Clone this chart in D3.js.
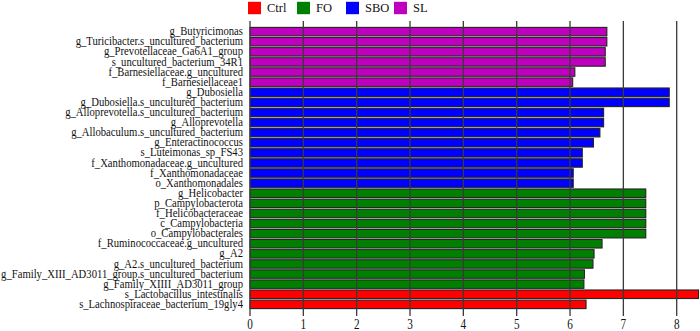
<!DOCTYPE html>
<html>
<head>
<meta charset="utf-8">
<script src="https://cdn.jsdelivr.net/npm/d3@7"></script>
<style>
  body { margin: 0; background: #fff; }
  text { font-family: "Liberation Serif", "Times New Roman", serif; fill: #111; }
</style>
</head>
<body>
<svg width="700" height="331"></svg>
<script>
// groups, top to bottom
var groups = ["Ctrl", "FO", "SBO", "SL"];
var groupColors = ["#ff0000", "#008000", "#0000ff", "#bf00bf"];

var labels = [
  "g_Butyricimonas",
  "g_Turicibacter.s_uncultured_bacterium",
  "g_Prevotellaceae_Ga6A1_group",
  "s_uncultured_bacterium_34R1",
  "f_Barnesiellaceae.g_uncultured",
  "f_Barnesiellaceae1",
  "g_Dubosiella",
  "g_Dubosiella.s_uncultured_bacterium",
  "g_Alloprevotella.s_uncultured_bacterium",
  "g_Alloprevotella",
  "g_Allobaculum.s_uncultured_bacterium",
  "g_Enteractinococcus",
  "s_Luteimonas_sp_FS43",
  "f_Xanthomonadaceae.g_uncultured",
  "f_Xanthomonadaceae",
  "o_Xanthomonadales",
  "g_Helicobacter",
  "p_Campylobacterota",
  "f_Helicobacteraceae",
  "c_Campylobacteria",
  "o_Campylobacterales",
  "f_Ruminococcaceae.g_uncultured",
  "g_A2",
  "g_A2.s_uncultured_bacterium",
  "g_Family_XIII_AD3011_group.s_uncultured_bacterium",
  "g_Family_XIIII_AD3011_group",
  "s_Lactobacillus_intestinalis",
  "s_Lachnospiraceae_bacterium_19gly4"
];

var ldaScores = [
  6.69, 6.69, 6.66, 6.66, 6.09, 6.05,
  7.86, 7.86, 6.63, 6.63, 6.56, 6.44, 6.23, 6.23, 6.06, 6.06,
  7.42, 7.42, 7.42, 7.42, 7.42, 6.60, 6.45, 6.43, 6.27, 6.26,
  8.41, 6.30
];

var barGroup = [
  "SL", "SL", "SL", "SL", "SL", "SL",
  "SBO", "SBO", "SBO", "SBO", "SBO", "SBO", "SBO", "SBO", "SBO", "SBO",
  "FO", "FO", "FO", "FO", "FO", "FO", "FO", "FO", "FO", "FO",
  "Ctrl", "Ctrl"
];

var xTicks = [0, 1, 2, 3, 4, 5, 6, 7, 8];

var rows = labels.map(function (l, i) {
  return { name: l, value: ldaScores[i], group: barGroup[i] };
});

var svg = d3.select("svg");
var color = d3.scaleOrdinal().domain(groups).range(groupColors);

var x = d3.scaleLinear().domain([0, 8]).range([250, 676.7]);
var y = d3.scaleBand().domain(labels).range([26.6, 309.4]).paddingInner(0);
var barH = 8.4;

// gray backing behind each bar
svg.append("g").selectAll("rect")
  .data(rows)
  .enter().append("rect")
  .attr("x", x(0))
  .attr("y", function (d) { return y(d.name); })
  .attr("width", function (d) { return x(d.value) - x(0) + 0.5; })
  .attr("height", y.bandwidth())
  .attr("fill", "#c4c4c4");

svg.append("g").selectAll("rect")
  .data(rows)
  .enter().append("rect")
  .attr("x", x(0))
  .attr("y", function (d) { return y(d.name) + (y.bandwidth() - barH) / 2; })
  .attr("width", function (d) { return x(d.value) - x(0); })
  .attr("height", barH)
  .attr("fill", function (d) { return color(d.group); })
  .attr("stroke", "#222")
  .attr("stroke-width", 1);

// vertical grid lines, drawn over the bars
svg.append("g").selectAll("line")
  .data(xTicks)
  .enter().append("line")
  .attr("x1", function (d) { return x(d); })
  .attr("x2", function (d) { return x(d); })
  .attr("y1", 21)
  .attr("y2", 316)
  .attr("stroke", "#3a3a3a")
  .attr("stroke-width", 1.3);

// tick labels (glyphs in the figure are a bit squeezed horizontally)
svg.append("g").selectAll("text")
  .data(xTicks)
  .enter().append("text")
  .attr("transform", function (d) { return "translate(" + x(d) + ",329) scale(0.8,1)"; })
  .attr("text-anchor", "middle")
  .style("font-size", "14px")
  .text(function (d) { return d; });

// row labels
svg.append("g").selectAll("text")
  .data(rows)
  .enter().append("text")
  .attr("transform", function (d) {
    return "translate(243," + (y(d.name) + y.bandwidth() / 2 + 3.6) + ") scale(0.92,1)";
  })
  .attr("text-anchor", "end")
  .style("font-size", "11.6px")
  .text(function (d) { return d.name; });

// legend
var legendX = [248, 297, 346, 394];
var legend = svg.append("g").selectAll("g")
  .data(groups)
  .enter().append("g")
  .attr("transform", function (d, i) { return "translate(" + legendX[i] + ",1.8)"; });

legend.append("rect")
  .attr("width", 13)
  .attr("height", 12.4)
  .attr("fill", function (d) { return color(d); });

legend.append("text")
  .attr("x", 19)
  .attr("y", 10.6)
  .style("font-size", "12.5px")
  .text(function (d) { return d; });
</script>
</body>
</html>
